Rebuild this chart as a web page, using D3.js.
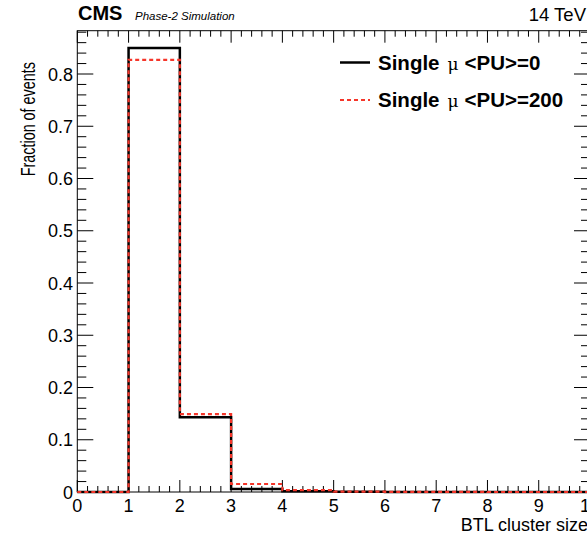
<!DOCTYPE html>
<html>
<head>
<meta charset="utf-8">
<script src="https://cdn.jsdelivr.net/npm/d3@7"></script>
<style>
  body { margin: 0; background: #fff; }
  svg { display: block; font-family: "Liberation Sans", Helvetica, Arial, sans-serif; }
</style>
</head>
<body>
<svg id="chart"></svg>
<script>
// bin edges 0..10, one bin per unit of cluster size
const binEdges = [0, 1, 2, 3, 4, 5, 6, 7, 8, 9, 10]
const pu0 = [0, 0.850, 0.143, 0.0057, 0.0012, 0.0003, 0.0001, 0, 0, 0]
const pu200 = [0, 0.827, 0.149, 0.0153, 0.0035, 0.0008, 0.0003, 0.0001, 0, 0]
const xTicks = [0, 1, 2, 3, 4, 5, 6, 7, 8, 9, 10]
const yTicks = [0, 0.1, 0.2, 0.3, 0.4, 0.5, 0.6, 0.7, 0.8]
const seriesNames = ['Single \u03bc <PU>=0', 'Single \u03bc <PU>=200']

const width = 587, height = 536
const svg = d3.select('#chart').attr('width', width).attr('height', height)

const frame = { left: 77.3, right: 590, top: 30.7, bottom: 492 }
const x = d3.scaleLinear().domain([0, 10]).range([frame.left, frame.right])
const y = d3.scaleLinear().domain([0, 0.8]).range([frame.bottom, frame.bottom - 0.8 * 522.5])
const yMax = y.invert(frame.top)

// step path for a histogram
function stepPath(vals) {
    let p = d3.path()
    p.moveTo(x(binEdges[0]), y(vals[0]))
    vals.forEach((v, i) => {
        p.lineTo(x(binEdges[i]), y(v))
        p.lineTo(x(binEdges[i + 1]), y(v))
    })
    return p.toString()
}

// frame
svg.append('rect')
    .attr('x', frame.left).attr('y', frame.top)
    .attr('width', frame.right - frame.left).attr('height', frame.bottom - frame.top)
    .attr('fill', 'none').attr('stroke', '#000').attr('stroke-width', 1)

// ticks (ROOT style: inside, on all four sides)
const ticks = svg.append('g').attr('stroke', '#000').attr('stroke-width', 1)
d3.range(0, 10.001, 0.2).forEach(v => {
    let major = Math.abs(v - Math.round(v)) < 1e-6
    let len = major ? 12 : 6
    ticks.append('line').attr('x1', x(v)).attr('x2', x(v)).attr('y1', frame.bottom).attr('y2', frame.bottom - len)
    ticks.append('line').attr('x1', x(v)).attr('x2', x(v)).attr('y1', frame.top).attr('y2', frame.top + len)
})
d3.range(0, yMax, 0.02).forEach(v => {
    let major = Math.abs(v * 10 - Math.round(v * 10)) < 1e-6
    let len = major ? 16 : 9
    ticks.append('line').attr('x1', frame.left).attr('x2', frame.left + len).attr('y1', y(v)).attr('y2', y(v))
    ticks.append('line').attr('x1', frame.right).attr('x2', frame.right - len).attr('y1', y(v)).attr('y2', y(v))
})

// tick labels
svg.append('g').selectAll('text').data(xTicks).enter().append('text')
    .attr('x', d => x(d)).attr('y', 512)
    .attr('text-anchor', 'middle').attr('font-size', 18)
    .text(d => d)
svg.append('g').selectAll('text').data(yTicks).enter().append('text')
    .attr('x', 73).attr('y', d => y(d) + 6.5)
    .attr('text-anchor', 'end').attr('font-size', 18)
    .text(d => d === 0 ? '0' : d.toFixed(1))

// axis titles
svg.append('text').attr('x', 588).attr('y', 531)
    .attr('text-anchor', 'end').attr('font-size', 18).text('BTL cluster size')
svg.append('text').attr('transform', 'translate(35,62) rotate(-90) scale(0.72,1)')
    .attr('text-anchor', 'end').attr('font-size', 20).text('Fraction of events')

// histograms
svg.append('path').attr('d', stepPath(pu0))
    .attr('fill', 'none').attr('stroke', '#000').attr('stroke-width', 2.5)
svg.append('path').attr('d', stepPath(pu200))
    .attr('fill', 'none').attr('stroke', '#f5362a').attr('stroke-width', 2.2)
    .attr('stroke-dasharray', '4,3')

// header
svg.append('text').attr('x', 78).attr('y', 20).attr('font-size', 20).attr('font-weight', 'bold').text('CMS')
svg.append('text').attr('x', 135).attr('y', 20).attr('font-size', 11.5).attr('font-style', 'italic').text('Phase-2 Simulation')
svg.append('text').attr('x', 586).attr('y', 21).attr('text-anchor', 'end').attr('font-size', 18.5).text('14 TeV')

// legend
const legend = svg.append('g')
const styles = [{ c: '#000', w: 2.5, dash: null }, { c: '#f5362a', w: 2.2, dash: '4,3' }]
seriesNames.forEach((name, i) => {
    let ly = 62.5 + i * 37.5
    legend.append('line').attr('x1', 340).attr('x2', 370).attr('y1', ly).attr('y2', ly)
        .attr('stroke', styles[i].c).attr('stroke-width', styles[i].w)
        .attr('stroke-dasharray', styles[i].dash)
    let parts = name.split('\u03bc')
    let t = legend.append('text').attr('x', 378).attr('y', ly + 7).attr('font-size', 20.5).attr('font-weight', 'bold')
    t.append('tspan').text(parts[0].trim())
    t.append('tspan').attr('dx', 8).attr('font-weight', 'normal').attr('font-family', '"DejaVu Serif", serif').attr('font-size', 17).text('\u03bc')
    t.append('tspan').attr('dx', 6).text(parts[1].trim())
})
</script>
</body>
</html>
